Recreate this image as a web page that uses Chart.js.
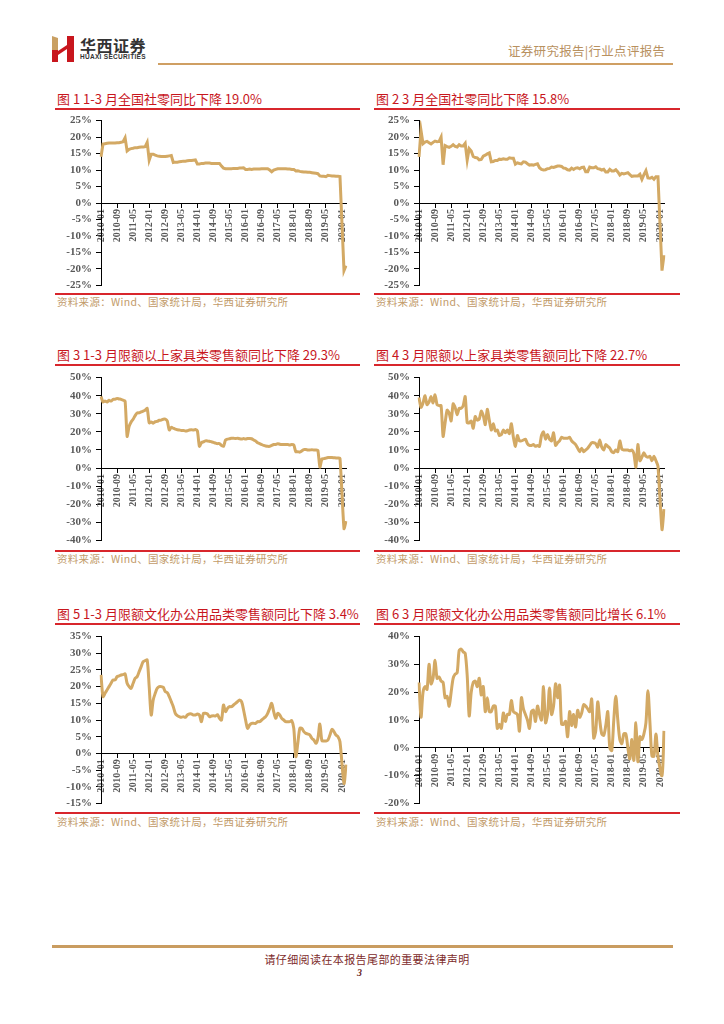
<!DOCTYPE html>
<html>
<head>
<meta charset="utf-8">
<script src="https://cdn.jsdelivr.net/npm/chart.js@4.4.0/dist/chart.umd.min.js"></script>
<style>
  html, body { margin: 0; padding: 0; background: #fff; }
  body { width: 724px; height: 1024px; position: relative; overflow: hidden; font-family: "Noto Sans CJK SC", sans-serif; }
  .title { position: absolute; color: #c8161d; font-size: 13px; line-height: 16px; white-space: nowrap; }
  .rule { position: absolute; height: 2px; background: #d8262c; }
  .src { position: absolute; color: #c29b6a; font-size: 10.5px; line-height: 14px; white-space: nowrap; letter-spacing: 0.3px; }
  canvas { position: absolute; }
</style>
</head>
<body>

<!-- header -->
<svg style="position:absolute;left:52px;top:36px" width="22" height="26">
  <polygon points="0,0 6,2 6,14 0,14" fill="#c9a063"/>
  <rect x="0" y="14" width="6" height="12" fill="#c8161d"/>
  <polygon points="6,15 15,9 15,13 6,19" fill="#c8161d"/>
  <rect x="15" y="0" width="7" height="26" fill="#c8161d"/>
</svg>
<div style="position:absolute;left:80px;top:33px;font-size:16px;font-weight:bold;color:#333;letter-spacing:0.5px">华西证券</div>
<div style="position:absolute;left:80px;top:53px;font-size:6.5px;font-weight:bold;color:#333;font-family:'Liberation Sans';letter-spacing:0.3px">HUAXI SECURITIES</div>
<div style="position:absolute;left:508px;top:41px;font-size:12.5px;color:#b8915f;letter-spacing:0.3px;white-space:nowrap">证券研究报告|行业点评报告</div>
<div style="position:absolute;left:158px;top:63px;width:515px;height:2px;background:#cf9f63"></div>

<!-- chart titles, rules, sources -->
<div class="title" style="left:57px;top:91px">图 1 1-3 月全国社零同比下降 19.0%</div>
<div class="title" style="left:376px;top:91px">图 2 3 月全国社零同比下降 15.8%</div>
<div class="rule" style="left:55px;top:108px;width:305px"></div>
<div class="rule" style="left:374px;top:108px;width:306px"></div>
<div class="rule" style="left:55px;top:293px;width:305px"></div>
<div class="rule" style="left:374px;top:293px;width:306px"></div>
<div class="src" style="left:57px;top:295px">资料来源：Wind、国家统计局，华西证券研究所</div>
<div class="src" style="left:376px;top:295px">资料来源：Wind、国家统计局，华西证券研究所</div>

<div class="title" style="left:57px;top:347px">图 3 1-3 月限额以上家具类零售额同比下降 29.3%</div>
<div class="title" style="left:376px;top:347px">图 4 3 月限额以上家具类零售额同比下降 22.7%</div>
<div class="rule" style="left:55px;top:364px;width:305px"></div>
<div class="rule" style="left:374px;top:364px;width:306px"></div>
<div class="rule" style="left:55px;top:550px;width:305px"></div>
<div class="rule" style="left:374px;top:550px;width:306px"></div>
<div class="src" style="left:57px;top:552px">资料来源：Wind、国家统计局，华西证券研究所</div>
<div class="src" style="left:376px;top:552px">资料来源：Wind、国家统计局，华西证券研究所</div>

<div class="title" style="left:57px;top:606px">图 5 1-3 月限额文化办公用品类零售额同比下降 3.4%</div>
<div class="title" style="left:376px;top:606px">图 6 3 月限额文化办公用品类零售额同比增长 6.1%</div>
<div class="rule" style="left:55px;top:623px;width:305px"></div>
<div class="rule" style="left:374px;top:623px;width:306px"></div>
<div class="rule" style="left:55px;top:812px;width:305px"></div>
<div class="rule" style="left:374px;top:812px;width:306px"></div>
<div class="src" style="left:57px;top:815px">资料来源：Wind、国家统计局，华西证券研究所</div>
<div class="src" style="left:376px;top:815px">资料来源：Wind、国家统计局，华西证券研究所</div>

<canvas id="c1" width="310" height="186" style="left:50px;top:110px"></canvas>
<canvas id="c2" width="310" height="186" style="left:368px;top:110px"></canvas>
<canvas id="c3" width="310" height="184" style="left:50px;top:367px"></canvas>
<canvas id="c4" width="310" height="184" style="left:368px;top:367px"></canvas>
<canvas id="c5" width="310" height="188" style="left:50px;top:626px"></canvas>
<canvas id="c6" width="310" height="188" style="left:368px;top:626px"></canvas>

<!-- footer -->
<div style="position:absolute;left:52px;top:945px;width:621px;height:3px;background:#c99c60"></div>
<div style="position:absolute;left:0;width:734px;top:951px;text-align:center;font-size:11px;color:#7d2b2b;letter-spacing:0.4px">请仔细阅读在本报告尾部的重要法律声明</div>
<div style="position:absolute;left:357px;top:967px;font-size:10px;font-weight:bold;font-style:italic;color:#6b1e1e;font-family:'Liberation Serif'">3</div>

<script>
// months 2010-01 .. 2020-03
var months = [];
for (var yr = 2010; yr <= 2020; yr++) {
  for (var mo = 1; mo <= 12; mo++) {
    if (yr === 2020 && mo > 3) break;
    months.push(yr + '-' + (mo < 10 ? '0' + mo : mo));
  }
}

var xTickLabels = ['2010-01', '2010-09', '2011-05', '2012-01', '2012-09', '2013-05', '2014-01', '2014-09',
  '2015-05', '2016-01', '2016-09', '2017-05', '2018-01', '2018-09', '2019-05', '2020-01'];

// 社零 累计同比 (%)
var retailYtd = [
  14.0, 17.9, 18.0, 18.1, 18.2, 18.2, 18.2, 18.2, 18.3, 18.3, 18.4, 18.6,
  19.8, 15.8, 16.3, 16.5, 16.6, 16.8, 16.8, 16.9, 17.0, 17.0, 17.1, 18.4,
  13.0, 14.8, 14.8, 14.5, 14.3, 14.2, 14.1, 14.1, 14.1, 14.2, 14.3, 14.4,
  12.3, 12.4, 12.4, 12.5, 12.6, 12.7, 12.7, 12.8, 12.9, 12.9, 13.0, 13.1,
  11.8, 11.8, 12.0, 12.0, 12.1, 12.1, 12.1, 12.0, 12.0, 12.0, 12.0, 12.0,
  11.2, 10.6, 10.4, 10.4, 10.4, 10.4, 10.5, 10.5, 10.5, 10.6, 10.6, 10.7,
  10.2, 10.2, 10.3, 10.2, 10.3, 10.3, 10.3, 10.3, 10.4, 10.4, 10.4, 10.4,
  10.0, 9.5, 10.0, 10.2, 10.4, 10.4, 10.4, 10.4, 10.4, 10.3, 10.3, 10.2,
  10.2, 9.7, 9.8, 9.6, 9.5, 9.4, 9.4, 9.3, 9.3, 9.2, 9.1, 9.0,
  8.9, 8.2, 8.1, 8.1, 8.0, 8.4, 8.3, 8.2, 8.2, 8.1, 8.1, 8.0,
  null, -20.5, -19.0
];

// 社零 当月同比 (%)
var retailMonthly = [
  14.0, 22.0, 18.0, 18.5, 18.7, 18.3, 17.9, 18.4, 18.8, 18.6, 18.7, 20.0,
  11.6, 17.4, 17.1, 16.9, 17.2, 17.7, 17.2, 17.0, 17.7, 17.3, 17.3, 18.1,
  13.0, 16.5, 15.8, 14.1, 13.8, 13.7, 13.1, 13.2, 14.2, 14.5, 14.9, 15.2,
  12.5, 12.6, 12.9, 12.9, 13.3, 13.2, 13.4, 13.3, 13.3, 13.7, 13.6, 13.6,
  11.8, 12.2, 12.0, 11.9, 12.5, 12.4, 11.9, 11.5, 11.6, 11.5, 11.7, 11.9,
  10.7, 10.2, 10.0, 10.1, 10.4, 10.5, 10.9, 10.8, 11.0, 11.2, 11.2, 11.1,
  10.6, 10.5, 10.1, 10.0, 10.6, 10.2, 10.6, 10.7, 10.4, 10.8, 10.9, 9.5,
  9.5, 10.9, 10.7, 10.7, 11.0, 10.4, 10.3, 10.0, 10.2, 9.4, 9.4, 10.2,
  9.7, 9.7, 10.1, 9.4, 8.5, 9.0, 8.8, 9.0, 9.2, 8.6, 8.1, 8.2,
  8.2, 8.2, 8.7, 7.2, 8.6, 9.8, 7.6, 7.5, 7.8, 7.2, 8.0, 8.0,
  null, -20.5, -15.8
];

// 家具类 累计同比 (%)
var furnitureYtd = [
  39.5, 36.5, 37.0, 36.5, 37.5, 37.0, 38.0, 38.0, 38.5, 38.2, 38.0, 37.5,
  37.0, 17.5, 23.0, 25.5, 27.0, 29.0, 30.5, 30.5, 31.0, 31.5, 32.0, 33.0,
  25.0, 25.5, 24.8, 25.6, 25.8, 26.4, 26.5, 27.0, 27.0, 26.0, 21.0, 22.5,
  22.0, 21.5, 21.2, 21.0, 20.8, 20.8, 20.5, 20.6, 21.0, 21.2, 21.0, 21.3,
  20.5, 12.0, 14.0, 14.5, 15.0, 15.0, 14.8, 14.5, 14.2, 13.8, 13.5, 13.5,
  12.5, 12.0, 15.5, 16.0, 16.2, 16.5, 16.5, 16.3, 16.5, 16.2, 16.0, 16.3,
  16.0, 16.3, 16.3, 16.2, 15.5, 15.0, 14.0, 13.5, 13.0, 12.5, 12.2, 12.0,
  12.0, 12.5, 13.0, 13.0, 13.5, 13.2, 13.0, 13.0, 13.0, 13.0, 12.8, 13.0,
  12.8, 9.0, 9.0, 8.8, 9.5, 10.2, 10.2, 10.0, 10.0, 10.1, 10.0, 10.0,
  9.8, 0.5, 5.0, 5.2, 5.5, 5.8, 5.8, 5.8, 5.7, 5.6, 5.5, 5.4,
  null, -33.5, -29.3
];

// 家具类 当月同比 (%)
var furnitureMonthly = [
  39.0, 33.5, 36.0, 40.0, 35.0, 36.5, 39.5, 36.0, 40.5, 35.0, 34.5, 34.5,
  17.5, 25.0, 32.0, 30.5, 26.0, 35.5, 33.5, 29.5, 33.0, 33.0, 34.5, 39.5,
  25.0, 25.0, 26.0, 22.0, 28.5, 26.5, 27.0, 31.5, 29.0, 24.0, 32.5, 26.5,
  21.0, 24.5, 20.5, 21.0, 18.0, 18.5, 21.0, 19.5, 21.0, 19.0, 24.5, 17.0,
  12.0, 18.0, 15.0, 15.0, 15.5, 16.0, 13.5, 12.5, 12.5, 13.0, 12.0, 12.5,
  12.0, 18.0, 20.0, 16.0, 18.5, 16.0, 15.0, 19.5, 12.5, 14.0, 15.0, 17.0,
  16.5, 16.5, 16.5, 17.0, 15.0, 14.0, 13.0, 11.0, 9.0, 11.0, 9.0, 10.0,
  11.0, 12.5, 14.0, 14.0, 13.5, 11.5, 15.5, 11.5, 10.0, 13.0, 12.0, 11.0,
  9.0, 8.5, 10.0, 9.0, 15.0, 10.5, 10.0, 10.0, 10.0, 9.5, 10.0, 8.0,
  0.5, 13.0, 4.0, 6.0, 8.5, 6.5, 6.0, 6.5, 4.0, 6.5, 4.0, 1.0,
  null, -34.0, -22.7
];

// 文化办公用品类 累计同比 (%)
var officeYtd = [
  23.5, 17.0, 18.0, 19.0, 20.0, 21.0, 22.0, 22.0, 23.0, 23.2, 23.5, 23.6,
  23.8, 21.0, 20.0, 19.5, 21.0, 22.5, 23.0, 24.5, 26.0, 27.5, 27.8, 28.0,
  20.0, 11.5, 16.0, 18.0, 19.5, 20.0, 20.0, 19.8, 18.5, 18.2, 17.0, 15.5,
  14.0, 12.0, 11.3, 11.0, 10.8, 11.0, 10.8, 11.5, 11.8, 11.8, 11.5, 11.5,
  11.8, 11.5, 9.5, 12.0, 12.0, 11.8, 11.0, 11.2, 11.3, 11.2, 11.6, 10.5,
  10.0, 14.5, 12.5, 13.5, 14.0, 14.0, 14.5, 15.0, 15.5, 16.0, 15.5, 13.0,
  10.0, 7.5, 8.5, 9.0, 9.0, 9.0, 9.5, 9.5, 10.0, 10.5, 11.0, 12.0,
  13.5, 15.0, 12.5, 10.5, 12.0, 11.5, 10.5, 10.0, 9.5, 9.5, 9.5, 9.8,
  7.5, -1.0, 3.0, 7.5, 7.5, 6.5, 6.0, 5.8, 5.5, 4.5, 4.0, 3.0,
  4.5, 8.8, 3.8, 3.7, 3.7, 4.0, 5.5, 7.2, 6.5, 5.5, 5.0, 3.5,
  null, -9.0, -3.4
];

// 文化办公用品类 当月同比 (%)
var officeMonthly = [
  23.5, 11.0, 20.0, 22.0, 21.0, 30.0, 23.0, 25.0, 31.5, 25.0, 25.5, 24.0,
  23.5, 18.0, 18.5, 15.0, 20.0, 25.0, 26.5, 27.0, 35.0, 35.5, 34.5, 34.0,
  26.0, 11.5, 20.0, 23.5, 24.0, 22.0, 25.0, 19.0, 22.0, 13.0, 18.0, 13.0,
  13.0, 15.0, 15.0, 7.0, 8.5, 7.0, 12.5, 9.5, 12.0, 12.0, 17.0, 13.0,
  12.5, 12.0, 6.0, 18.0, 14.0, 12.0, 10.0, 7.0, 13.0, 13.5, 9.5, 15.0,
  12.0, 10.0, 22.0, 9.0, 12.0, 21.5, 12.0, 15.0, 23.0, 18.0, 22.5, 8.5,
  8.5, 9.5, 4.0, 13.0, 8.0, 12.0, 7.5, 13.5, 11.0, 12.5, 15.5, 15.0,
  14.0, 13.0, 17.5, 3.5, 6.0, 16.5, 10.0, 5.0, 4.5, 8.0, 13.0, 0.0,
  -1.0, 10.0, 18.5, 10.0, 3.0, 1.5, 5.0, 5.0, 0.0, -4.0, 3.0, -4.5,
  9.0, -5.0, 4.0, 3.0, 5.0, 9.0, 20.5, 9.0, -3.0, -3.0, 5.0, -3.0,
  null, -10.0, 6.1
];

var lineColor = '#d3a964';
var tickFontY = { family: 'Liberation Serif', size: 11, weight: 'bold' };
var tickFontX = { family: 'Liberation Serif', size: 10, weight: 'bold' };

function makeChart(id, series, yMin, yMax, yStep, tension) {
  return new Chart(document.getElementById(id), {
    type: 'line',
    data: {
      labels: months,
      datasets: [{
        data: series,
        borderColor: lineColor,
        borderWidth: 3,
        pointRadius: 0,
        tension: tension,
        spanGaps: true,
        fill: false
      }]
    },
    options: {
      responsive: false,
      animation: false,
      layout: { padding: { top: 8, bottom: 8, left: 0, right: 6 } },
      plugins: { legend: { display: false }, tooltip: { enabled: false } },
      scales: {
        x: {
          type: 'category',
          position: { y: 0 },
          offset: false,
          border: { color: '#000', width: 1 },
          grid: {
            drawOnChartArea: false,
            tickLength: 4,
            tickColor: function (ctx) {
              return xTickLabels.indexOf(months[ctx.index]) >= 0 ? '#000' : 'rgba(0,0,0,0)';
            }
          },
          ticks: {
            autoSkip: false,
            minRotation: 90,
            maxRotation: 90,
            padding: 2,
            color: '#595959',
            font: tickFontX,
            callback: function (v, i) {
              return xTickLabels.indexOf(months[i]) >= 0 ? months[i] : '';
            }
          }
        },
        y: {
          min: yMin,
          max: yMax,
          border: { color: '#000', width: 1 },
          grid: { drawOnChartArea: false, tickLength: 5, tickColor: '#000' },
          ticks: {
            stepSize: yStep,
            padding: 4,
            color: '#595959',
            font: tickFontY,
            callback: function (v) { return v + '%'; }
          },
          afterFit: function (scale) { scale.width = 51; }
        }
      }
    }
  });
}

makeChart('c1', retailYtd, -25, 25, 5, 0);
makeChart('c2', retailMonthly, -25, 25, 5, 0);
makeChart('c3', furnitureYtd, -40, 50, 10, 0.2);
makeChart('c4', furnitureMonthly, -40, 50, 10, 0.2);
makeChart('c5', officeYtd, -15, 35, 5, 0.3);
makeChart('c6', officeMonthly, -20, 40, 10, 0.3);
</script>
</body>
</html>
